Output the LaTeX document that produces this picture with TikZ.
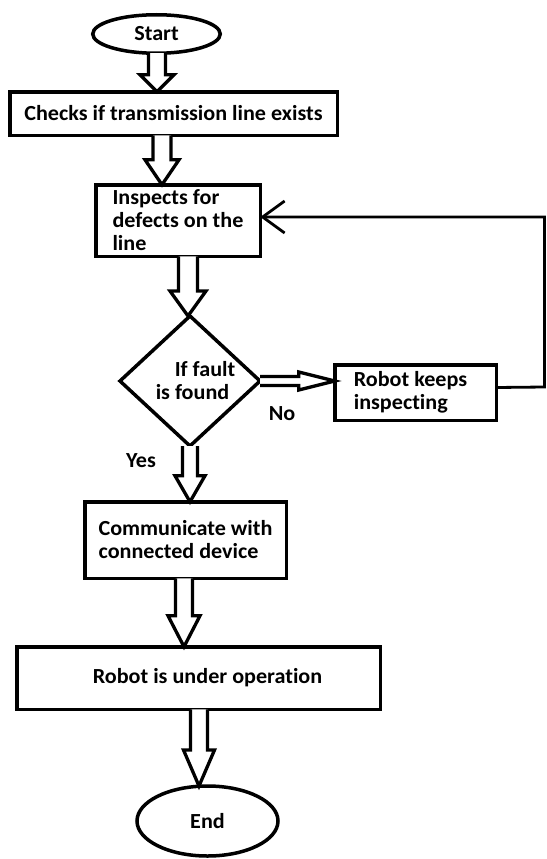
\documentclass[tikz,border=0pt]{standalone}
\usepackage{fontspec}
\setmainfont{Carlito}[FakeStretch=1.03, Ligatures=NoCommon]
\usetikzlibrary{shapes.geometric,calc,arrows.meta}
\newcommand\blkdown[6]{%
  \draw[blk] let \p1=(#1.south), \p2=(#2.north) in
   ({(#3-#4)*1pt},\y1) -- ({(#3-#4)*1pt},{\y2+#6pt}) -- ({(#3-#5)*1pt},{\y2+#6pt})
   -- ({#3*1pt},\y2) -- ({(#3+#5)*1pt},{\y2+#6pt}) -- ({(#3+#4)*1pt},{\y2+#6pt})
   -- ({(#3+#4)*1pt},\y1);}
\begin{document}
\begin{tikzpicture}[x=1pt,y=-1pt,
  every node/.style={font=\bfseries\fontsize{21.5}{23}\selectfont, outer sep=0pt},
  box/.style={draw, line width=3.5pt, rectangle, align=left, inner sep=2pt},
  oval/.style={draw, line width=3.5pt, ellipse, inner sep=0pt},
  blk/.style={line width=3.3pt, fill=white},
  fb/.style={line width=2.8pt}]
\useasboundingbox (0,0) rectangle (546,859);
\fill[white] (0,0) rectangle (546,859);
\node[oval, minimum width=127.5pt, minimum height=38.5pt] (start) at (156.5,34) {Start};
\node[box, minimum width=327.5pt, minimum height=43.5pt, align=center] (check) at (173.5,113.5) {Checks if transmission line exists};
\node[box, minimum width=164.5pt, minimum height=71.5pt] (inspect) at (178,220.5) {Inspects for\\defects on the\hspace*{6pt}\\line};
\node[draw, line width=3.5pt, diamond, minimum width=140pt, minimum height=130pt, inner sep=0pt, align=left] (dec) at (190,381) {\hspace*{30pt}If fault\\\hspace*{11pt}is found};
\node[box, minimum width=161.5pt, minimum height=55.5pt] (robot) at (415.5,392.5) {Robot keeps\hspace*{10pt}\\inspecting};
\node[box, minimum width=201.5pt, minimum height=76.5pt] (comm) at (185.5,540) {Communicate with\\connected device};
\node[box, minimum width=363.5pt, minimum height=62.5pt] (oper) at (198.5,678) {\hspace*{18pt}Robot is under operation};
\node[oval, minimum width=141pt, minimum height=70pt] (end) at (207.5,821) {End};
\node (no) at (282,414) {No};
\node (yes) at (141,461) {Yes};
% block arrows
\blkdown{start}{check}{157}{8.5}{17}{17}
\blkdown{check}{inspect}{162}{9}{17}{25}
\blkdown{inspect}{dec}{188}{9.5}{18}{25}
\blkdown{dec}{comm}{190}{7.5}{15}{26}
\blkdown{comm}{oper}{184}{8.5}{16}{31}
\blkdown{oper}{end}{199}{8.5}{15.5}{36}
% No arrow (horizontal)
\draw[blk] let \p1=(dec.east), \p2=(robot.west) in
  (\x1,{\y1-4.5pt}) -- ({\x2-36pt},{\y1-4.5pt}) -- ({\x2-36pt},{\y1-9pt}) -- (\x2,\y1)
  -- ({\x2-36pt},{\y1+9pt}) -- ({\x2-36pt},{\y1+4.5pt}) -- (\x1,{\y1+4.5pt});
% feedback loop
\coordinate (corner) at (544.5,387);
\draw[fb, -{Straight Barb[length=22pt,width=32pt]}] ($(robot.east)+(0,-5)$) -- (corner) |- ($(inspect.east)+(0,-3.5)$);
\end{tikzpicture}
\end{document}
